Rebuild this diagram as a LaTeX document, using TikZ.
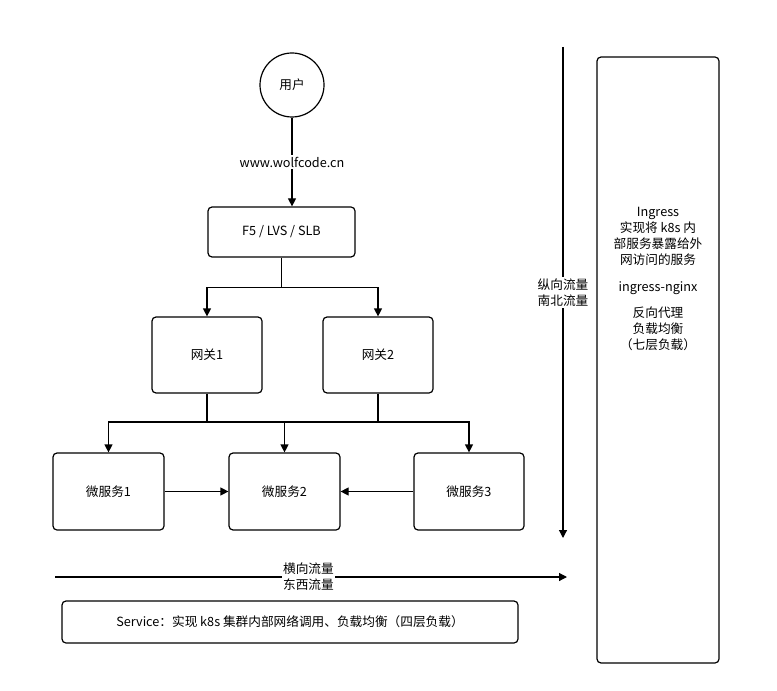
\documentclass[tikz,border=0pt]{standalone}
\usepackage{fontspec}
\setmainfont{Noto Sans CJK SC}
\usetikzlibrary{arrows.meta}
\begin{document}
\begin{tikzpicture}[x=0.75pt,y=-0.75pt,
  box/.style={draw,rounded corners=3pt,line width=0.9pt,font=\fontsize{9.5}{12}\selectfont,align=center},
  arr/.style={-{Triangle[length=6pt,width=6pt]},line width=0.9pt},
  ln/.style={line width=0.9pt},
  lbl/.style={fill=white,font=\fontsize{9.5}{12}\selectfont,align=center,inner sep=1pt}]
\useasboundingbox (0,0) rectangle (777,691);
\node[draw,circle,line width=0.9pt,minimum size=64*0.75pt,inner sep=0,font=\fontsize{9.5}{12}\selectfont] (user) at (292,85) {用户};
\node[box,minimum width=147*0.75pt,minimum height=50*0.75pt] (f5) at (281.5,232) {F5 / LVS / SLB};
\node[box,minimum width=110*0.75pt,minimum height=76*0.75pt] (g1) at (207,355) {网关1};
\node[box,minimum width=110*0.75pt,minimum height=76*0.75pt] (g2) at (378,355) {网关2};
\node[box,minimum width=111*0.75pt,minimum height=77*0.75pt] (m1) at (108.5,491.5) {微服务1};
\node[box,minimum width=111*0.75pt,minimum height=77*0.75pt] (m2) at (284.5,491.5) {微服务2};
\node[box,minimum width=110*0.75pt,minimum height=77*0.75pt] (m3) at (469,491.5) {微服务3};
\node[box,minimum width=122*0.75pt,minimum height=606*0.75pt] (ing) at (658,360) {};
\node[font=\fontsize{9.5}{12}\selectfont,align=center] (ingt) at (658,279) {Ingress\\实现将 k8s 内\\部服务暴露给外\\网访问的服务\\[8pt]ingress-nginx\\[8pt]反向代理\\负载均衡\\（七层负载）};
\node[box,minimum width=456*0.75pt,minimum height=42*0.75pt] (svc) at (290,622) {Service：实现 k8s 集群内部网络调用、负载均衡（四层负载）};
\coordinate (vt) at (563,47); \coordinate (vb) at (563,538);
\coordinate (hl) at (55,577); \coordinate (hr) at (567,577);
\draw[arr] (user.south) -- (user.south |- f5.north) node[lbl,pos=0.5] {www.wolfcode.cn};
\draw[ln] (f5.south) -- ++(0,30) coordinate (s1);
\draw[arr] (s1) -| (g1.north);
\draw[arr] (s1) -| (g2.north);
\draw[ln] (g1.south) |- (378,422) coordinate (s2);
\draw[ln] (g2.south) -- (s2);
\draw[arr] (s2) -| (m3.north);
\draw[arr] (g1.south |- s2) -| (m1.north);
\draw[arr] (g1.south |- s2) -| (m2.north);
\draw[arr] (m1) -- (m2);
\draw[arr] (m3) -- (m2);
\draw[arr] (vt) -- (vb) node[lbl,pos=0.5] {纵向流量\\南北流量};
\draw[arr] (hl) -- (hr) node[lbl,pos=0.495] {横向流量\\东西流量};
\end{tikzpicture}
\end{document}
